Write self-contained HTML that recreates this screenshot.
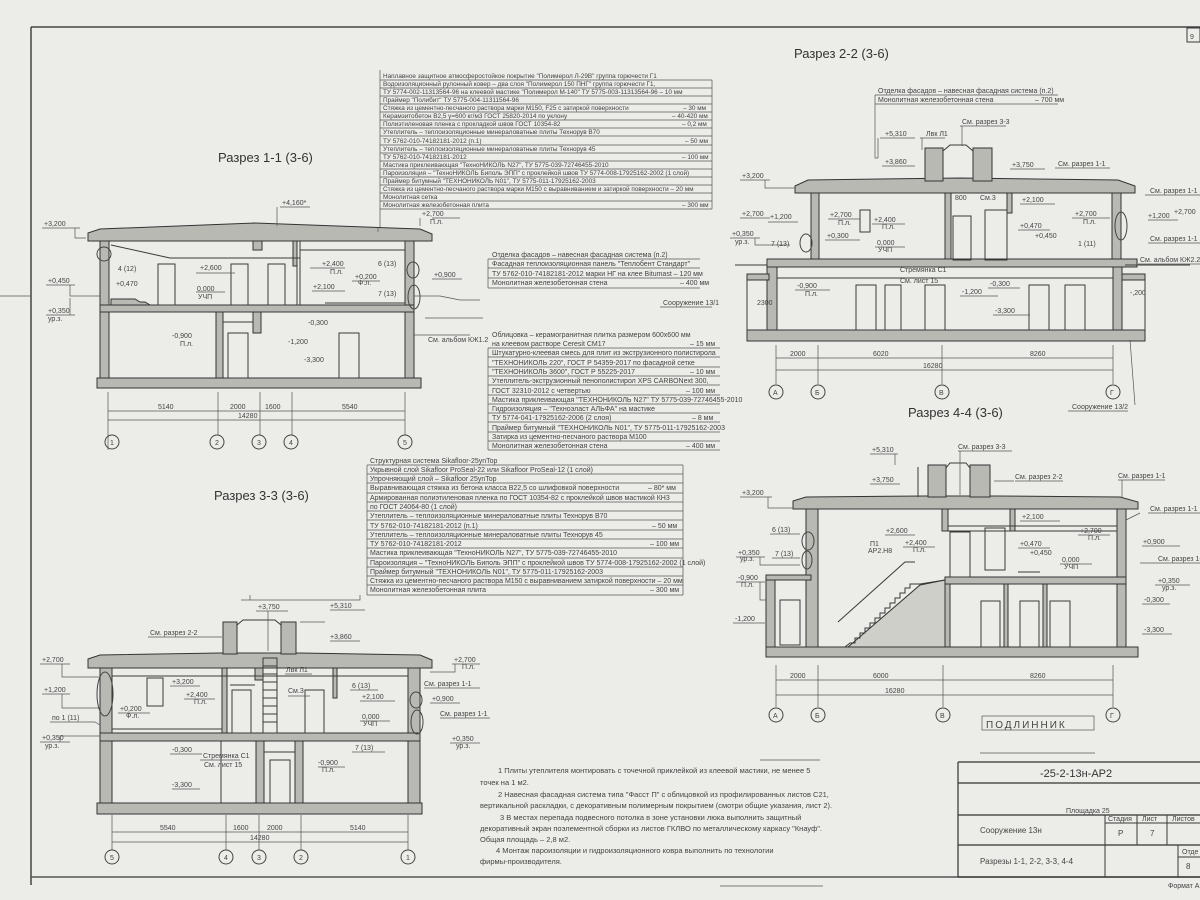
<!DOCTYPE html>
<html><head><meta charset="utf-8">
<style>
html,body{margin:0;padding:0;background:#ecece9;}
svg{display:block;font-family:"Liberation Sans","DejaVu Sans",sans-serif;}
.t{font-size:7px;fill:#444;}
.s{font-size:6.4px;fill:#444;}
.m{font-size:9px;fill:#333;}
.h{font-size:13px;fill:#333;}
.l{stroke:#3a3a3a;stroke-width:1;fill:none;}
.th{stroke:#555;stroke-width:0.7;fill:none;}
.w{fill:#b9b9b4;stroke:#333;stroke-width:1;}
.d{fill:none;stroke:#444;stroke-width:1.2;}
.c{fill:none;stroke:#444;stroke-width:1;}
</style></head><body>
<svg width="1200" height="900" viewBox="0 0 1200 900" xmlns="http://www.w3.org/2000/svg">
<rect width="1200" height="900" fill="#ecece9"/>
<!-- frame -->
<line x1="31" y1="27" x2="1200" y2="27" stroke="#444" stroke-width="1.5"/>
<line x1="31" y1="27" x2="31" y2="885" stroke="#444" stroke-width="1.5"/>
<line x1="0" y1="296" x2="31" y2="296" class="th"/>
<line x1="31" y1="877" x2="1200" y2="877" stroke="#555" stroke-width="1.5"/>
<rect x="1187" y="28" width="13" height="14" class="l"/>
<text x="1190" y="39" class="t">9</text>

<!-- titles -->
<text x="218" y="162" class="h">Разрез 1-1 (3-6)</text>
<text x="794" y="58" class="h">Разрез 2-2 (3-6)</text>
<text x="214" y="500" class="h">Разрез 3-3 (3-6)</text>
<text x="908" y="417" class="h">Разрез 4-4 (3-6)</text>

<!-- ============ TABLE 1 ============ -->
<g class="s">
<text x="383" y="78">Наплавное защитное атмосферостойкое покрытие "Полимерол Л-29В" группа горючести Г1</text>
<text x="383" y="86">Водоизоляционный рулонный ковер – два слоя "Полимерол 150 ПНГ" группа горючести Г1,</text>
<text x="383" y="94">ТУ 5774-002-11313564-96 на клеевой мастике "Полимерол М-140" ТУ 5775-003-11313564-96 – 10 мм</text>
<text x="383" y="102">Праймер "Полибит" ТУ 5775-004-11311564-96</text>
<text x="383" y="110">Стяжка из цементно-песчаного раствора марки М150, F25 с затиркой поверхности</text><text x="683" y="110">– 30 мм</text>
<text x="383" y="118">Керамзитобетон В2,5 γ=600 кг/м3 ГОСТ 25820-2014 по уклону</text><text x="672" y="118">– 40-420 мм</text>
<text x="383" y="126">Полиэтиленовая пленка с прокладкой швов ГОСТ 10354-82</text><text x="682" y="126">– 0,2 мм</text>
<text x="383" y="134">Утеплитель – теплоизоляционные минераловатные плиты Технорув В70</text>
<text x="383" y="143">ТУ 5762-010-74182181-2012 (п.1)</text><text x="685" y="143">– 50 мм</text>
<text x="383" y="151">Утеплитель – теплоизоляционные минераловатные плиты Технорув 45</text>
<text x="383" y="159">ТУ 5762-010-74182181-2012</text><text x="682" y="159">– 100 мм</text>
<text x="383" y="167">Мастика приклеивающая "ТехноНИКОЛЬ N27", ТУ 5775-039-72746455-2010</text>
<text x="383" y="175">Пароизоляция – "ТехноНИКОЛЬ Биполь ЭПП" с проклейкой швов ТУ 5774-008-17925162-2002 (1 слой)</text>
<text x="383" y="183">Праймер битумный "ТЕХНОНИКОЛЬ N01", ТУ 5775-011-17925162-2003</text>
<text x="383" y="191">Стяжка из цементно-песчаного раствора марки М150 с выравниванием и затиркой поверхности – 20 мм</text>
<text x="383" y="199">Монолитная сетка</text>
<text x="383" y="207">Монолитная железобетонная плита</text><text x="682" y="207">– 300 мм</text>
</g>
<g class="th">
<path d="M380 80H712M380 88H712M380 96H712M380 104H712M380 112H712M380 120H712M380 128H712M380 136H712M380 145H712M380 153H712M380 161H712M380 169H712M380 177H712M380 185H712M380 193H712M380 201H712M380 209H712"/>
<path d="M380 70V228M712 80V209"/>
</g>

<!-- ============ TABLE 2 ============ -->
<g class="t">
<text x="492" y="257">Отделка фасадов – навесная фасадная система (п.2)</text>
<text x="492" y="266">Фасадная теплоизоляционная панель "Теплобент Стандарт"</text>
<text x="492" y="276">ТУ 5762-010-74182181-2012 марки НГ на клее Bitumast – 120 мм</text>
<text x="492" y="285">Монолитная железобетонная стена</text><text x="680" y="285">– 400 мм</text>
</g>
<path class="th" d="M488 259H700M488 268H700M488 278H700M488 288H700M488 259V288"/>
<text x="663" y="305" class="t">Сооружение 13/1</text>
<line x1="660" y1="307" x2="712" y2="307" class="th"/>

<!-- ============ TABLE 3 ============ -->
<g class="t">
<text x="492" y="337">Облицовка – керамогранитная плитка размером 600х600 мм</text>
<text x="492" y="346">на клеевом растворе Ceresit CM17</text><text x="690" y="346">– 15 мм</text>
<text x="492" y="355">Штукатурно-клеевая смесь для плит из экструзионного полистирола</text>
<text x="492" y="365">"ТЕХНОНИКОЛЬ 220", ГОСТ Р 54359-2017 по фасадной сетке</text>
<text x="492" y="374">"ТЕХНОНИКОЛЬ 3600", ГОСТ Р 55225-2017</text><text x="690" y="374">– 10 мм</text>
<text x="492" y="383">Утеплитель-экструзионный пенополистирол XPS CARBONext 300,</text>
<text x="492" y="393">ГОСТ 32310-2012 с четвертью</text><text x="686" y="393">– 100 мм</text>
<text x="492" y="402">Мастика приклеивающая "ТЕХНОНИКОЛЬ N27" ТУ 5775-039-72746455-2010</text>
<text x="492" y="411">Гидроизоляция – "Техноэласт АЛЬФА" на мастике</text>
<text x="492" y="420">ТУ 5774-041-17925162-2006 (2 слоя)</text><text x="692" y="420">– 8 мм</text>
<text x="492" y="430">Праймер битумный "ТЕХНОНИКОЛЬ N01", ТУ 5775-011-17925162-2003</text>
<text x="492" y="439">Затирка из цементно-песчаного раствора М100</text>
<text x="492" y="448">Монолитная железобетонная стена</text><text x="686" y="448">– 400 мм</text>
</g>
<path class="th" d="M488 348H720M488 357H720M488 367H720M488 376H720M488 385H720M488 395H720M488 404H720M488 413H720M488 422H720M488 432H720M488 441H720M488 450H720M488 348V450"/>

<!-- ============ TABLE 4 ============ -->
<g class="t">
<text x="370" y="463">Структурная система Sikafloor-25ynTop</text>
<text x="370" y="472">Укрывной слой Sikafloor ProSeal-22 или Sikafloor ProSeal-12 (1 слой)</text>
<text x="370" y="481">Упрочняющий слой – Sikafloor 25ynTop</text>
<text x="370" y="490">Выравнивающая стяжка из бетона класса В22,5 со шлифовкой поверхности</text><text x="648" y="490">– 80* мм</text>
<text x="370" y="500">Армированная полиэтиленовая пленка по ГОСТ 10354-82 с проклейкой швов мастикой КН3</text>
<text x="370" y="509">по ГОСТ 24064-80 (1 слой)</text>
<text x="370" y="518">Утеплитель – теплоизоляционные минераловатные плиты Технорув В70</text>
<text x="370" y="528">ТУ 5762-010-74182181-2012 (п.1)</text><text x="652" y="528">– 50 мм</text>
<text x="370" y="537">Утеплитель – теплоизоляционные минераловатные плиты Технорув 45</text>
<text x="370" y="546">ТУ 5762-010-74182181-2012</text><text x="650" y="546">– 100 мм</text>
<text x="370" y="555">Мастика приклеивающая "ТехноНИКОЛЬ N27", ТУ 5775-039-72746455-2010</text>
<text x="370" y="565">Пароизоляция – "ТехноНИКОЛЬ Биполь ЭПП" с проклейкой швов ТУ 5774-008-17925162-2002 (1 слой)</text>
<text x="370" y="574">Праймер битумный "ТЕХНОНИКОЛЬ N01", ТУ 5775-011-17925162-2003</text>
<text x="370" y="583">Стяжка из цементно-песчаного раствора М150 с выравниванием затиркой поверхности – 20 мм</text>
<text x="370" y="592">Монолитная железобетонная плита</text><text x="650" y="592">– 300 мм</text>
</g>
<path class="th" d="M367 465H683M367 474H683M367 483H683M367 493H683M367 502H683M367 511H683M367 520H683M367 530H683M367 539H683M367 548H683M367 558H683M367 567H683M367 576H683M367 585H683M367 595H683M367 465V595M683 465V595"/>
<path class="th" d="M250 595V600"/>
<path class="th" d="M241 600H360V595"/>

<!-- small table 2-2 -->
<g class="t">
<text x="878" y="93">Отделка фасадов – навесная фасадная система (п.2)</text>
<text x="878" y="102">Монолитная железобетонная стена</text><text x="1035" y="102">– 700 мм</text>
</g>
<path class="th" d="M875 95H1058M875 104H1058M875 95V158H878"/>

<!-- ============ SECTION 1-1 ============ -->
<g>
<path class="w" d="M88 233 L100 229 L255 223 L420 229 L432 234 L432 241 L88 241 Z"/>
<rect class="w" x="100" y="241" width="9" height="140"/>
<rect class="w" x="405" y="241" width="9" height="140"/>
<rect class="w" x="100" y="305" width="314" height="7"/>
<rect class="w" x="97" y="378" width="324" height="10"/>
<rect class="w" x="216" y="312" width="7" height="66"/>
<rect class="w" x="253" y="312" width="8" height="21"/>
<rect class="w" x="253" y="241" width="9" height="9"/>
<rect class="w" x="293" y="241" width="4" height="25"/>
<path class="l" d="M297 266V305M300 241V305M300 250H405M223 322H253"/>
<path class="l" d="M111 245L170 258H300"/>
<path class="w" d="M111 299H135L140 302H145L150 305H111Z"/>
<rect class="l" x="158" y="264" width="17" height="41"/>
<rect class="l" x="231" y="264" width="17" height="41"/>
<rect class="l" x="268" y="264" width="17" height="41"/>
<rect class="l" x="228" y="333" width="20" height="45"/>
<rect class="l" x="339" y="333" width="20" height="45"/>
<path class="l" d="M325 303H405"/>
<circle cx="104" cy="254" r="7" class="c"/>
<ellipse cx="413" cy="270" rx="6" ry="8" class="c"/>
<ellipse cx="414" cy="297" rx="6" ry="12" class="c"/>
<!-- dims -->
<path class="th" d="M108 411H405M108 420H405M108 392V450M218 392V435M260 392V435M292 392V435M405 392V435"/>
<g class="t"><text x="158" y="409">5140</text><text x="230" y="409">2000</text><text x="265" y="409">1600</text><text x="342" y="409">5540</text><text x="238" y="418">14280</text></g>
<g class="c"><circle cx="112" cy="442" r="7"/><circle cx="217" cy="442" r="7"/><circle cx="259" cy="442" r="7"/><circle cx="291" cy="442" r="7"/><circle cx="405" cy="442" r="7"/></g>
<g class="t"><text x="110" y="445">1</text><text x="215" y="445">2</text><text x="257" y="445">3</text><text x="289" y="445">4</text><text x="403" y="445">5</text></g>
<!-- marks -->
<g class="t">
<text x="282" y="205">+4,160*</text><text x="44" y="226">+3,200</text><text x="48" y="283">+0,450</text><text x="48" y="313">+0,350</text><text x="48" y="321">ур.з.</text>
<text x="118" y="271">4 (12)</text><text x="116" y="286">+0,470</text><text x="200" y="270">+2,600</text><text x="197" y="291">0,000</text><text x="198" y="299">УЧП</text>
<text x="322" y="266">+2,400</text><text x="330" y="274">П.л.</text><text x="313" y="289">+2,100</text><text x="355" y="279">+0,200</text><text x="358" y="285">Ф.л.</text>
<text x="378" y="266">6 (13)</text><text x="378" y="296">7 (13)</text><text x="434" y="277">+0,900</text>
<text x="422" y="216">+2,700</text><text x="430" y="224">П.л.</text>
<text x="172" y="338">-0,900</text><text x="180" y="346">П.л.</text><text x="308" y="325">-0,300</text><text x="288" y="344">-1,200</text><text x="304" y="362">-3,300</text>
<text x="428" y="342">См. альбом КЖ1.2</text>
</g>
<path class="th" d="M280 207H310M277 207V226M42 228H80M75 228V238H86M46 285H75M70 285V296H100M46 315H75M70 315V298M196 273H235M196 292H225M310 268H345M312 291H345M352 281H380M432 279H462M425 318H483M414 335H470M432 218H460M420 218V226"/>
<path class="th" d="M378 228V232M414 296H440L460 300H480"/>
</g>

<!-- ============ SECTION 2-2 ============ -->
<g>
<path class="w" d="M795 186 L808 180 L960 178 L1118 180 L1135 186 L1135 193 L795 193 Z"/>
<rect class="w" x="925" y="148" width="18" height="33"/>
<rect class="w" x="973" y="148" width="19" height="33"/>
<path class="l" d="M943 151L950 145H966L973 151"/>
<rect class="w" x="811" y="193" width="8" height="70"/>
<rect class="w" x="1112" y="193" width="9" height="70"/>
<rect class="w" x="945" y="193" width="6" height="67"/>
<rect class="w" x="1007" y="193" width="5" height="20"/>
<rect class="w" x="767" y="259" width="370" height="8"/>
<rect class="w" x="767" y="267" width="10" height="63"/>
<rect class="w" x="1113" y="267" width="9" height="63"/>
<rect class="w" x="747" y="330" width="398" height="11"/>
<rect class="w" x="747" y="274" width="22" height="6"/>
<rect class="w" x="1122" y="274" width="23" height="6"/>
<path class="l" d="M747 280V330M1145 280V330M735 265H767M1125 265H1190M777 278H1113"/>
<rect class="l" x="860" y="210" width="10" height="22"/>
<rect class="l" x="953" y="216" width="18" height="44"/>
<rect class="l" x="985" y="210" width="22" height="50"/>
<rect class="l" x="856" y="285" width="20" height="45"/>
<rect class="l" x="885" y="285" width="16" height="45"/>
<rect class="l" x="925" y="285" width="20" height="45"/>
<rect class="l" x="1029" y="285" width="20" height="45"/>
<rect class="l" x="1065" y="285" width="20" height="45"/>
<ellipse cx="806" cy="243" rx="6" ry="9" class="c"/>
<ellipse cx="1121" cy="226" rx="6" ry="14" class="c"/>
<path class="th" d="M776 358H1113M776 370H1113M776 345V384M818 345V384M942 345V384M1113 345V384M1130 340L1135 405"/>
<g class="t"><text x="790" y="356">2000</text><text x="873" y="356">6020</text><text x="1030" y="356">8260</text><text x="923" y="368">16280</text><text x="757" y="305">2300</text></g>
<g class="c"><circle cx="776" cy="392" r="7"/><circle cx="818" cy="392" r="7"/><circle cx="942" cy="392" r="7"/><circle cx="1113" cy="392" r="7"/></g>
<g class="t"><text x="773" y="395">А</text><text x="815" y="395">Б</text><text x="939" y="395">В</text><text x="1110" y="395">Г</text></g>
<g class="t">
<text x="885" y="136">+5,310</text><text x="926" y="136">Лвк Л1</text><text x="962" y="124">См. разрез 3-3</text><text x="885" y="164">+3,860</text><text x="1012" y="167">+3,750</text><text x="1058" y="166">См. разрез 1-1</text>
<text x="742" y="178">+3,200</text><text x="742" y="216">+2,700</text><text x="770" y="219">+1,200</text><text x="732" y="236">+0,350</text><text x="735" y="244">ур.з.</text><text x="771" y="246">7 (13)</text>
<text x="830" y="217">+2,700</text><text x="838" y="225">П.л.</text><text x="874" y="222">+2,400</text><text x="882" y="229">П.л.</text><text x="827" y="238">+0,300</text><text x="877" y="245">0,000</text><text x="878" y="252">УЧП</text>
<text x="955" y="200">800</text><text x="980" y="200">См.3</text><text x="1022" y="202">+2,100</text><text x="1020" y="228">+0,470</text><text x="1035" y="238">+0,450</text>
<text x="1075" y="216">+2,700</text><text x="1083" y="224">П.л.</text><text x="1078" y="246">1 (11)</text>
<text x="1150" y="193">См. разрез 1-1</text><text x="1148" y="218">+1,200</text><text x="1174" y="214">+2,700</text><text x="1150" y="241">См. разрез 1-1</text><text x="1140" y="262">См. альбом КЖ2.2</text>
<text x="797" y="288">-0,900</text><text x="805" y="296">П.л.</text><text x="900" y="272">Стремянка С1</text><text x="900" y="283">См. лист 15</text><text x="962" y="294">-1,200</text><text x="990" y="286">-0,300</text><text x="995" y="313">-3,300</text><text x="1130" y="295">-,200</text>
<text x="1072" y="409">Сооружение 13/2</text>
</g>
<path class="th" d="M880 138H915M878 138V158M920 138H945M922 138V150M960 126H1006M962 126V146M882 166H915M1010 169H1045M1055 168H1110M740 180H770M765 180V188H795M740 218H770M768 222H798M730 238H760M755 238V245H790M828 219H860M872 224H905M825 240H860M875 247H905M1020 204H1055M1018 230H1050M1072 218H1110M1148 220H1178M1145 195H1200M1148 243H1200M1138 264H1200M795 290H830M960 296H998M988 288H1020M993 315H1030M1068 411H1128"/>
</g>

<!-- ============ SECTION 3-3 ============ -->
<g>
<path class="w" d="M88 659 L100 655 L220 653 L300 653 L420 655 L432 660 L432 668 L88 668 Z"/>
<rect class="w" x="223" y="622" width="14" height="32"/>
<rect class="w" x="281" y="622" width="15" height="32"/>
<path class="l" d="M237 625L243 620H275L281 625"/>
<rect class="w" x="100" y="668" width="12" height="145"/>
<rect class="w" x="408" y="668" width="12" height="145"/>
<rect class="w" x="100" y="733" width="320" height="8"/>
<rect class="w" x="97" y="803" width="325" height="11"/>
<rect class="w" x="222" y="668" width="5" height="65"/>
<rect class="w" x="256" y="741" width="8" height="62"/>
<rect class="w" x="295" y="741" width="8" height="62"/>
<rect class="w" x="333" y="668" width="4" height="30"/>
<rect class="w" x="255" y="668" width="8" height="12"/>
<path class="l" d="M263 658H277V733H263ZM263 666H277M263 674H277M263 682H277M263 690H277M263 698H277M263 706H277M263 714H277M263 722H277"/>
<path class="l" d="M112 676H408M230 685H255M112 729H222M221 741V803M264 752H295"/>
<rect class="l" x="147" y="678" width="16" height="28"/>
<rect class="l" x="232" y="690" width="19" height="43"/>
<rect class="l" x="305" y="690" width="19" height="43"/>
<rect class="l" x="270" y="760" width="20" height="43"/>
<ellipse cx="105" cy="694" rx="8" ry="22" class="c"/>
<ellipse cx="416" cy="700" rx="6" ry="8" class="c"/>
<ellipse cx="417" cy="722" rx="6" ry="12" class="c"/>
<path class="th" d="M112 832H408M112 842H408M112 815V850M226 815V850M259 815V850M301 815V850M408 815V850"/>
<g class="t"><text x="160" y="830">5540</text><text x="233" y="830">1600</text><text x="267" y="830">2000</text><text x="350" y="830">5140</text><text x="250" y="840">14280</text></g>
<g class="c"><circle cx="112" cy="857" r="7"/><circle cx="226" cy="857" r="7"/><circle cx="259" cy="857" r="7"/><circle cx="301" cy="857" r="7"/><circle cx="408" cy="857" r="7"/></g>
<g class="t"><text x="110" y="860">5</text><text x="224" y="860">4</text><text x="257" y="860">3</text><text x="299" y="860">2</text><text x="406" y="860">1</text></g>
<g class="t">
<text x="258" y="609">+3,750</text><text x="330" y="608">+5,310</text><text x="150" y="635">См. разрез 2-2</text><text x="330" y="639">+3,860</text>
<text x="42" y="662">+2,700</text><text x="44" y="692">+1,200</text><text x="52" y="720">по 1 (11)</text><text x="42" y="740">+0,350</text><text x="45" y="748">ур.з.</text>
<text x="172" y="684">+3,200</text><text x="186" y="697">+2,400</text><text x="194" y="704">П.л.</text><text x="120" y="711">+0,200</text><text x="126" y="718">Ф.л.</text>
<text x="286" y="672">Лвк Л1</text><text x="288" y="693">См.3</text><text x="352" y="688">6 (13)</text><text x="362" y="699">+2,100</text><text x="362" y="719">0,000</text><text x="363" y="726">УЧП</text>
<text x="355" y="750">7 (13)</text><text x="454" y="662">+2,700</text><text x="462" y="669">П.л.</text><text x="424" y="686">См. разрез 1-1</text><text x="432" y="701">+0,900</text><text x="440" y="716">См. разрез 1-1</text><text x="452" y="741">+0,350</text><text x="456" y="748">ур.з.</text>
<text x="172" y="752">-0,300</text><text x="203" y="758">Стремянка С1</text><text x="204" y="767">См. лист 15</text><text x="318" y="765">-0,900</text><text x="322" y="772">П.л.</text><text x="172" y="787">-3,300</text>
</g>
<path class="th" d="M256 611H288M268 611V651M330 610H365M300 622H325M148 637H222M330 641H360M40 664H70M62 664V677H100M42 694H70M62 694V708H100M50 722H95L100 725M40 742H70M60 742V736H100M170 686H200M184 699H215M118 713H150M285 674H312M288 696H310M350 690H378M360 701H395M360 721H390M352 752H385M452 664H480M455 664V672H430M424 688H480M430 703H460M440 718H490M450 743H480M170 754H202M200 760H240M318 767H345M172 789H200"/>
</g>

<!-- ============ SECTION 4-4 ============ -->
<g>
<path class="w" d="M793 501 L806 497 L925 496 L995 496 L1120 497 L1138 502 L1138 509 L793 509 Z"/>
<rect class="w" x="928" y="465" width="18" height="32"/>
<rect class="w" x="970" y="465" width="20" height="32"/>
<path class="l" d="M946 468L950 463H966L970 468M918 467V497"/>
<rect class="w" x="806" y="509" width="12" height="138"/>
<rect class="w" x="1117" y="509" width="9" height="138"/>
<rect class="w" x="945" y="577" width="181" height="7"/>
<rect class="w" x="766" y="575" width="45" height="5"/>
<rect class="w" x="766" y="580" width="9" height="67"/>
<rect class="w" x="766" y="647" width="372" height="10"/>
<rect class="w" x="942" y="509" width="6" height="22"/>
<rect class="w" x="1010" y="509" width="5" height="22"/>
<rect class="w" x="945" y="584" width="5" height="63"/>
<rect class="w" x="1004" y="584" width="4" height="63"/>
<rect class="w" x="1043" y="584" width="4" height="63"/>
<path fill="#cfcfca" stroke="#333" d="M848 647L920 585L945 580V647Z"/>
<path class="l" d="M845 647L850 643H855V638H860V633H865V628H870V623H875V618H880V613H885V608H890V603H895V598H900V593H905V588H910V584H920L945 580"/>
<path class="l" d="M838 622L905 562H915M948 531H1117M948 526H1117M1018 572H1040"/>
<rect class="l" x="950" y="532" width="20" height="45"/>
<rect class="l" x="985" y="528" width="20" height="42"/>
<rect class="l" x="780" y="600" width="20" height="45"/>
<rect class="l" x="981" y="601" width="19" height="46"/>
<rect class="l" x="1020" y="601" width="19" height="46"/>
<rect class="l" x="1050" y="601" width="20" height="46"/>
<ellipse cx="808" cy="541" rx="6" ry="9" class="c"/>
<ellipse cx="807" cy="560" rx="5" ry="9" class="c"/>
<path class="th" d="M776 680H1113M776 695H1113M776 665V707M818 665V707M943 665V707M1113 665V707"/>
<g class="t"><text x="790" y="678">2000</text><text x="873" y="678">6000</text><text x="1030" y="678">8260</text><text x="885" y="693">16280</text></g>
<g class="c"><circle cx="776" cy="715" r="7"/><circle cx="818" cy="715" r="7"/><circle cx="943" cy="715" r="7"/><circle cx="1113" cy="715" r="7"/></g>
<g class="t"><text x="773" y="718">А</text><text x="815" y="718">Б</text><text x="940" y="718">В</text><text x="1110" y="718">Г</text></g>
<rect x="982" y="716" width="112" height="14" class="th"/>
<text x="986" y="728" class="t" style="font-size:10px;letter-spacing:2px">ПОДЛИННИК</text>
<g class="t">
<text x="872" y="452">+5,310</text><text x="958" y="449">См. разрез 3-3</text><text x="872" y="482">+3,750</text><text x="1015" y="479">См. разрез 2-2</text><text x="1118" y="478">См. разрез 1-1</text>
<text x="742" y="495">+3,200</text><text x="772" y="532">6 (13)</text><text x="775" y="556">7 (13)</text><text x="738" y="555">+0,350</text><text x="740" y="561">ур.з.</text><text x="738" y="580">-0,900</text><text x="741" y="587">П.л.</text><text x="735" y="621">-1,200</text>
<text x="886" y="533">+2,600</text><text x="905" y="545">+2,400</text><text x="913" y="552">П.л.</text><text x="870" y="546">П1</text><text x="868" y="553">АР2.Н8</text>
<text x="1022" y="519">+2,100</text><text x="1020" y="546">+0,470</text><text x="1030" y="555">+0,450</text><text x="1062" y="562">0,000</text><text x="1064" y="569">УЧП</text><text x="1080" y="533">+2,700</text><text x="1088" y="540">П.л.</text>
<text x="1150" y="511">См. разрез 1-1</text><text x="1143" y="544">+0,900</text><text x="1158" y="561">См. разрез 1-1</text><text x="1158" y="583">+0,350</text><text x="1162" y="590">ур.з.</text><text x="1144" y="602">-0,300</text><text x="1144" y="632">-3,300</text>
</g>
<path class="th" d="M870 454H898M895 454V465M958 451H1012M960 451V495M870 484H900M1015 481H1063M994 481H1014M1118 480H1165M1122 480V497M740 497H772M768 497V508H793M770 534H800M772 558H800M736 557H765M760 557V565H800M736 582H765M760 582V600H766M733 623H765M885 535H915M903 547H935M1020 521H1060M1018 548H1050M1060 564H1092M1078 535H1110M1148 513H1200M1140 513L1126 520M1142 546H1180M1140 563H1200M1155 585H1190M1142 604H1170M1142 634H1172"/>
</g>

<!-- ============ NOTES ============ -->
<g class="t" style="font-size:7.5px">
<text x="498" y="773">1 Плиты утеплителя монтировать с точечной приклейкой из клеевой мастики, не менее 5</text>
<text x="480" y="785">точек на 1 м2.</text>
<text x="498" y="797">2 Навесная фасадная система типа "Фасст П" с облицовкой из профилированных листов С21,</text>
<text x="480" y="808">вертикальной раскладки, с декоративным полимерным покрытием (смотри общие указания, лист 2).</text>
<text x="500" y="820">3 В местах перепада подвесного потолка в зоне установки люка выполнить защитный</text>
<text x="480" y="831">декоративный экран поэлементной сборки из листов ГКЛВО по металлическому каркасу "Кнауф".</text>
<text x="480" y="842">Общая площадь – 2,8 м2.</text>
<text x="496" y="853">4 Монтаж пароизоляции и гидроизоляционного ковра выполнить по технологии</text>
<text x="480" y="864">фирмы-производителя.</text>
</g>
<line x1="760" y1="760" x2="820" y2="760" class="th"/>
<line x1="720" y1="886" x2="823" y2="886" class="th"/>
<line x1="980" y1="753" x2="1095" y2="753" class="th"/>

<!-- ============ TITLE BLOCK ============ -->
<g>
<path d="M958 762H1200M958 783H1200M958 815H1200M958 845H1200M958 877H1200M958 762V877" stroke="#333" stroke-width="1.2" fill="none"/>
<path class="l" d="M1105 815V877M1137 815V845M1167 815V845M1105 823H1200M1178 845V877M1178 857H1200"/>
<text x="1040" y="777" style="font-size:11px;fill:#333">-25-2-13н-АР2</text>
<text x="1066" y="813" class="t">Площадка 25</text>
<text x="980" y="833" class="t" style="font-size:8px">Сооружение 13н</text>
<text x="980" y="864" class="t" style="font-size:8px">Разрезы 1-1, 2-2, 3-3, 4-4</text>
<g class="t"><text x="1108" y="821">Стадия</text><text x="1142" y="821">Лист</text><text x="1172" y="821">Листов</text>
<text x="1118" y="836" style="font-size:8px">Р</text><text x="1150" y="836" style="font-size:8px">7</text>
<text x="1182" y="854">Отде</text><text x="1186" y="869" style="font-size:8px">8</text>
<text x="1168" y="888">Формат А2</text></g>
</g>
</svg>
</body></html>
